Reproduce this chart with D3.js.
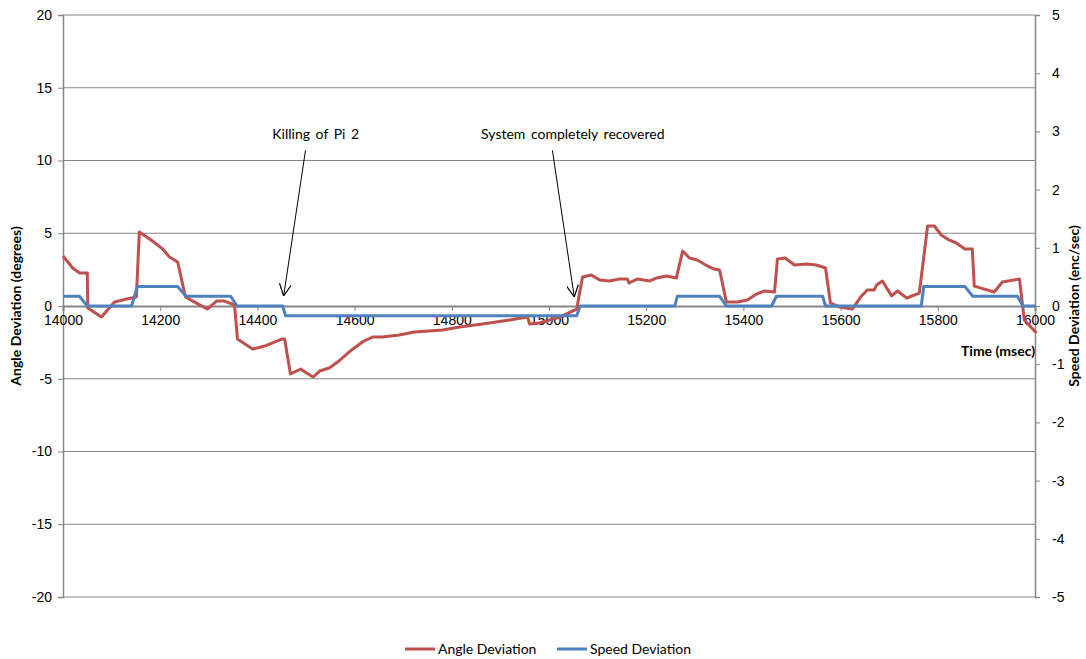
<!DOCTYPE html>
<html lang="en">
<head>
<meta charset="UTF-8">
<title>Angle and Speed Deviation</title>
<script src="https://d3js.org/d3.v7.min.js"></script>
<style>
    body { margin: 0; background: #fff; font-family: Lato, "Open Sans", sans-serif; }
    .tick text { font-size: 14px; fill: #000; }
    .axis-title { font-size: 14px; font-weight: bold; }
</style>
</head>
<body>
<svg id="chart"></svg>
<script>
// time (msec) and angle deviation (degrees)
const angleTime = [14000, 14020, 14034, 14050, 14051, 14079, 14106, 14131, 14151, 14157,
    14184, 14205, 14219, 14236, 14252, 14271, 14297, 14316, 14332, 14353,
    14359, 14390, 14415, 14450, 14456, 14468, 14489, 14501, 14515, 14528,
    14548, 14565, 14594, 14616, 14637, 14657, 14692, 14723, 14781, 14816,
    14863, 14919, 14956, 14960, 14980, 15022, 15057, 15069, 15087, 15104,
    15124, 15145, 15161, 15165, 15182, 15207, 15221, 15242, 15262, 15275,
    15289, 15305, 15326, 15340, 15351, 15365, 15388, 15408, 15427, 15443,
    15464, 15470, 15486, 15505, 15530, 15550, 15569, 15579, 15598, 15624,
    15643, 15655, 15669, 15674, 15686, 15705, 15717, 15736, 15762, 15779,
    15793, 15807, 15823, 15838, 15856, 15871, 15875, 15916, 15933, 15968,
    15978, 16003];
const angleValues = [3.44, 2.61, 2.27, 2.27, -0.14, -0.76, 0.27, 0.48, 0.62, 5.09,
    4.47, 3.92, 3.37, 3.02, 0.62, 0.27, -0.21, 0.34, 0.34, 0.07,
    -2.27, -2.96, -2.75, -2.27, -2.27, -4.67, -4.33, -4.6, -4.88, -4.47,
    -4.26, -3.85, -3.02, -2.47, -2.13, -2.13, -1.99, -1.79, -1.65, -1.44,
    -1.24, -0.96, -0.76, -1.24, -1.17, -0.76, -0.21, 1.99, 2.13, 1.79,
    1.72, 1.86, 1.86, 1.58, 1.86, 1.72, 1.92, 2.06, 1.92, 3.78,
    3.30, 3.16, 2.75, 2.54, 2.47, 0.27, 0.27, 0.41, 0.82, 1.03,
    0.96, 3.23, 3.30, 2.82, 2.89, 2.82, 2.61, 0.21, -0.07, -0.21,
    0.69, 1.10, 1.10, 1.44, 1.72, 0.69, 1.03, 0.55, 0.89, 5.50,
    5.50, 4.88, 4.54, 4.33, 3.92, 3.92, 1.37, 0.96, 1.65, 1.86,
    -0.96, -1.86];

// time (msec) and speed deviation (enc/sec)
const speedTime = [14000, 14034, 14050, 14141, 14153, 14236, 14253, 14345, 14358, 14452,
    14458, 15057, 15064, 15259, 15264, 15351, 15365, 15458, 15468, 15563,
    15569, 15766, 15771, 15856, 15872, 15964, 15975, 16000];
const speedValues = [0.167, 0.167, 0, 0, 0.333, 0.333, 0.167, 0.167, 0, 0,
    -0.167, -0.167, 0, 0, 0.167, 0.167, 0, 0, 0.167, 0.167,
    0, 0, 0.333, 0.333, 0.167, 0.167, 0, 0];

const xTicks = [14000, 14200, 14400, 14600, 14800, 15000, 15200, 15400, 15600, 15800, 16000];
const angleTicks = [20, 15, 10, 5, 0, -5, -10, -15, -20];
const speedTicks = [5, 4, 3, 2, 1, 0, -1, -2, -3, -4, -5];

// annotation text position and arrow from/to (time, angle)
const notes = [
    { label: "Killing of Pi 2", textTime: 14520, textAngle: 11.5,
      fromTime: 14499, fromAngle: 10.7, toTime: 14454, toAngle: 0.69 },
    { label: "System completely recovered", textTime: 15049, textAngle: 11.5,
      fromTime: 15007, fromAngle: 10.7, toTime: 15052, toAngle: 0.62 }
];

const W = 1086, H = 659;
const margin = { top: 15, right: 51, bottom: 62, left: 63 };
const width = W - margin.left - margin.right;
const height = H - margin.top - margin.bottom;

const plain = d => String(d); // hyphen minus like the original

const svg = d3.select("#chart").attr("width", W).attr("height", H);

svg.append("defs").append("marker")
    .attr("id", "arrow")
    .attr("viewBox", "0 0 10 10")
    .attr("refX", 10).attr("refY", 5)
    .attr("markerWidth", 12).attr("markerHeight", 12)
    .attr("markerUnits", "userSpaceOnUse")
    .attr("orient", "auto")
    .append("path")
    .attr("d", "M0,0 L10,5 L0,10")
    .attr("fill", "none")
    .attr("stroke", "#000")
    .attr("stroke-width", 1);

const g = svg.append("g").attr("transform", `translate(${margin.left},${margin.top})`);

const x = d3.scaleLinear().domain([14000, 16000]).range([0, width]);
const yA = d3.scaleLinear().domain([-20, 20]).range([height, 0]);
const yS = d3.scaleLinear().domain([-5, 5]).range([height, 0]);

const gridColor = "#868686";

// horizontal gridlines
g.append("g")
    .selectAll("line")
    .data(angleTicks.filter(d => d !== 0 && d !== -20))
    .enter().append("line")
    .attr("x1", 0).attr("x2", width)
    .attr("y1", d => yA(d)).attr("y2", d => yA(d))
    .attr("stroke", gridColor).attr("stroke-width", 1);

// left axis
const leftAxis = g.append("g")
    .call(d3.axisLeft(yA).tickValues(angleTicks).tickSize(5).tickPadding(6).tickFormat(plain));
leftAxis.select(".domain").attr("stroke", gridColor).attr("stroke-width", 1.5);
leftAxis.selectAll(".tick line").attr("stroke", gridColor);

// right axis
const rightAxis = g.append("g")
    .attr("transform", `translate(${width},0)`)
    .call(d3.axisRight(yS).tickValues(speedTicks).tickSize(5).tickPadding(12).tickFormat(plain));
rightAxis.select(".domain").attr("stroke", gridColor).attr("stroke-width", 1.5);
rightAxis.selectAll(".tick line").attr("stroke", gridColor);

// bottom axis at zero
const bottomAxis = g.append("g")
    .attr("transform", `translate(0,${yA(0)})`)
    .call(d3.axisBottom(x).tickValues(xTicks).tickSize(5).tickPadding(4).tickFormat(plain));
bottomAxis.select(".domain").attr("stroke", gridColor).attr("stroke-width", 2);
bottomAxis.selectAll(".tick line").attr("stroke", gridColor);

// bottom frame line
g.append("line")
    .attr("x1", 0).attr("x2", width)
    .attr("y1", height).attr("y2", height)
    .attr("stroke", gridColor).attr("stroke-width", 1);

// series
const angleData = angleTime.map((t, i) => ({ t, v: angleValues[i] }));
const speedData = speedTime.map((t, i) => ({ t, v: speedValues[i] }));

g.append("path")
    .datum(angleData)
    .attr("fill", "none")
    .attr("stroke", "#C0504D")
    .attr("stroke-width", 3)
    .attr("stroke-linejoin", "round")
    .attr("d", d3.line().x(d => x(d.t)).y(d => yA(d.v)));

g.append("path")
    .datum(speedData)
    .attr("fill", "none")
    .attr("stroke", "#4F81BD")
    .attr("stroke-width", 3)
    .attr("stroke-linejoin", "round")
    .attr("d", d3.line().x(d => x(d.t)).y(d => yS(d.v)));

// annotations
notes.forEach(n => {
    g.append("text")
        .attr("x", x(n.textTime))
        .attr("y", yA(n.textAngle))
        .attr("text-anchor", "middle")
        .style("font-size", "14px")
        .style("word-spacing", "2px")
        .text(n.label);
    g.append("line")
        .attr("x1", x(n.fromTime))
        .attr("y1", yA(n.fromAngle))
        .attr("x2", x(n.toTime))
        .attr("y2", yA(n.toAngle))
        .attr("stroke", "#000")
        .attr("stroke-width", 1)
        .attr("marker-end", "url(#arrow)");
});

// axis titles
svg.append("text")
    .attr("class", "axis-title")
    .attr("transform", `translate(21,${margin.top + yA(0)}) rotate(-90)`)
    .attr("text-anchor", "middle")
    .text("Angle Deviation (degrees)");

svg.append("text")
    .attr("class", "axis-title")
    .attr("transform", `translate(1079,${margin.top + yA(0)}) rotate(-90)`)
    .attr("text-anchor", "middle")
    .text("Speed Deviation (enc/sec)");

svg.append("text")
    .attr("class", "axis-title")
    .attr("x", margin.left + width)
    .attr("y", margin.top + yA(0) + 50)
    .attr("text-anchor", "end")
    .text("Time (msec)");

// legend
const legendItems = [
    { label: "Angle Deviation", color: "#C0504D", x: 405 },
    { label: "Speed Deviation", color: "#4F81BD", x: 557 }
];
const legend = svg.append("g").attr("transform", "translate(0,649)");
legendItems.forEach(item => {
    legend.append("line")
        .attr("x1", item.x).attr("x2", item.x + 30)
        .attr("y1", 0).attr("y2", 0)
        .attr("stroke", item.color).attr("stroke-width", 3);
    legend.append("text")
        .attr("x", item.x + 33).attr("y", 5)
        .style("font-size", "14px")
        .text(item.label);
});
</script>
</body>
</html>
